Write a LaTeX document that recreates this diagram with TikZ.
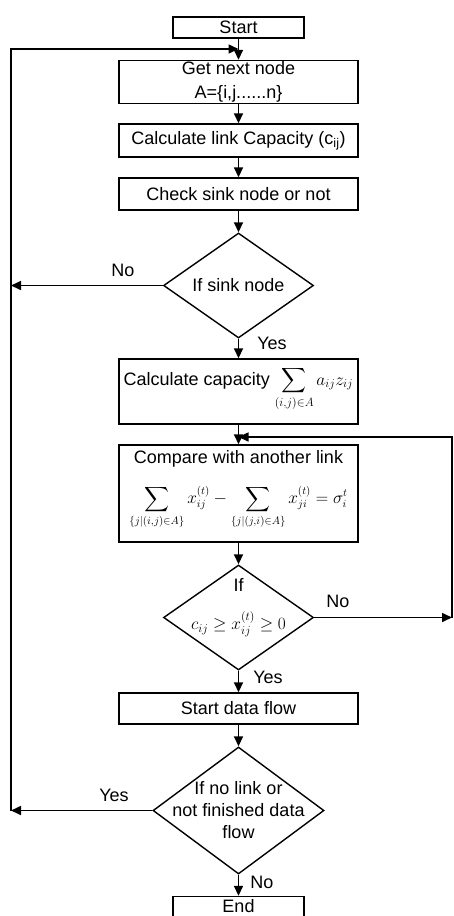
\documentclass[tikz,border=0pt]{standalone}
\usepackage{amsmath}
\usepackage{fontspec}
\setmainfont{Liberation Sans}
\usetikzlibrary{shapes.geometric,arrows.meta}
\begin{document}
\begin{tikzpicture}[x=1pt,y=-1pt,
  font=\fontsize{18}{23}\selectfont,
  box/.style={draw, line width=1.4pt, inner sep=0pt, align=center, minimum width=239pt},
  dia/.style={draw, diamond, line width=1.4pt, inner sep=0pt},
  arr/.style={line width=1.6pt, -{Triangle[length=10pt,width=9pt]}},
  txt/.style={inner sep=0pt, align=center},
  lbl/.style={inner sep=0pt}]
\useasboundingbox (0,0) rectangle (454,916);

% boxes and decisions
\node[box, minimum width=131pt, minimum height=21pt] (start) at (238.5,27.5) {Start};
\node[box, minimum height=43pt, font=\fontsize{18}{24}\selectfont] (get) at (238.5,82) {Get next node\\A=\{i,j......n\}};
\node[box, minimum height=33pt] (link) at (238.5,140.5) {Calculate link Capacity (c\textsubscript{ij})};
\node[box, minimum height=32pt] (check) at (238.5,194) {Check sink node or not};
\node[dia, minimum width=150pt, minimum height=105pt] (d1) at (238.5,285.5) {};
\node[txt] (d1t) at (238.5,285.5) {If sink node};
\node[box, minimum height=65pt] (cap) at (238.5,391.5) {};
\node[txt] (capt) at (238.5,389) {Calculate capacity $\displaystyle\sum_{(i,j)\in A} a_{ij}z_{ij}$};
\node[box, minimum height=97pt] (cmp) at (238.5,493.5) {};
\node[txt] (cmpt) at (238.5,459) {Compare with another link};
\node[inner sep=0pt, font=\fontsize{16}{20}\selectfont] (cmpf) at (238.5,507) {$\displaystyle \sum_{\{j|(i,j)\in A\}} x_{ij}^{(t)} - \sum_{\{j|(j,i)\in A\}} x_{ji}^{(t)} = \sigma_i^t$};
\node[dia, minimum width=150pt, minimum height=105pt] (d2) at (238.5,617.5) {};
\node[txt] (d2a) at (238.5,585) {If};
\node[txt] (d2b) at (238.5,624) {$c_{ij} \ge x_{ij}^{(t)} \ge 0$};
\node[box, minimum height=31pt] (flow) at (238.5,708.5) {Start data flow};
\node[dia, minimum width=171pt, minimum height=127pt] (d3) at (238.5,810.5) {};
\node[txt, font=\fontsize{18}{22}\selectfont] (d3t) at (238.5,810.5) {If no link or\\not finished data\\flow};
\node[box, minimum width=131pt, minimum height=20pt] (end) at (238.5,906.5) {End};

% helper coordinates
\coordinate (cL1) at (11,285.5);
\coordinate (cL3) at (11,810.5);
\coordinate (cLt) at (11,49);
\coordinate (cT) at (238.5,49);
\coordinate (cR2) at (452,617.5);
\coordinate (cRt) at (452,437);
\coordinate (cM) at (238.5,437);

% connectors
\draw[arr] (start) -- (get);
\draw[arr] (get) -- (link);
\draw[arr] (link) -- (check);
\draw[arr] (check) -- (d1);
\draw[arr] (d1) -- (cap);
\draw[arr] (cap) -- (cmp);
\draw[arr] (cmp) -- (d2);
\draw[arr] (d2) -- (flow);
\draw[arr] (flow) -- (d3);
\draw[arr] (d3) -- (end);
\draw[arr] (d1.west) -- (cL1);
\draw[arr] (d3.west) -- (cL3);
\draw[arr] (cL3) -- (cLt) -- (cT);
\draw[arr] (d2.east) -- (cR2);
\draw[arr] (cR2) -- (cRt) -- (cM);

% labels
\node[lbl] (no1) at (123,270) {No};
\node[lbl] (yes1) at (272,343) {Yes};
\node[lbl] (no2) at (338,601) {No};
\node[lbl] (yes2) at (268,677) {Yes};
\node[lbl] (yes3) at (114,795) {Yes};
\node[lbl] (no3) at (262,882) {No};
\end{tikzpicture}
\end{document}
